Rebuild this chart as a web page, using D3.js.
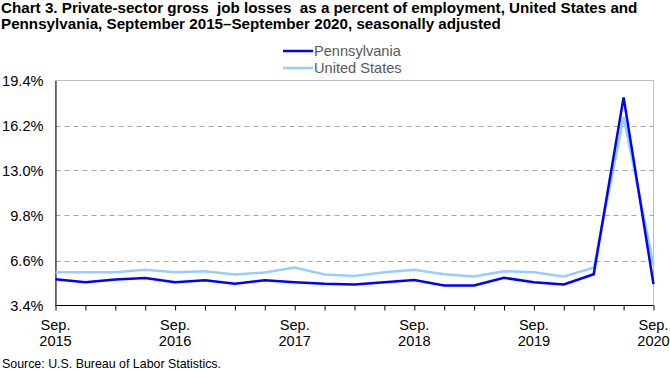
<!DOCTYPE html>
<html><head><meta charset="utf-8">
<script src="https://cdn.jsdelivr.net/npm/d3@7"></script>
<style>body{margin:0;background:#fff}svg{display:block;font-family:"Liberation Sans",Arial,sans-serif}</style>
</head><body><svg id="c" width="670" height="370"></svg>
<script>
const quarters = ["Sep 2015","Dec 2015","Mar 2016","Jun 2016","Sep 2016","Dec 2016","Mar 2017","Jun 2017","Sep 2017","Dec 2017","Mar 2018","Jun 2018","Sep 2018","Dec 2018","Mar 2019","Jun 2019","Sep 2019","Dec 2019","Mar 2020","Jun 2020","Sep 2020"];
const pennsylvania = [5.27,5.06,5.25,5.35,5.06,5.2,4.94,5.2,5.06,4.94,4.89,5.06,5.22,4.82,4.82,5.37,5.06,4.89,5.62,18.2,4.92];
const unitedStates = [5.77,5.77,5.77,5.94,5.77,5.84,5.6,5.75,6.1,5.6,5.5,5.77,5.94,5.63,5.46,5.84,5.76,5.46,6.08,16.8,6.3];
const yTicks = [3.4,6.6,9.8,13.0,16.2,19.4];
const xLabelIdx = [0,4,8,12,16,20];

const svg = d3.select("#c");
const m = {l:55.5, r:653.5, t:80.5, b:305.5};
const x = d3.scalePoint().domain(quarters).range([m.l, m.r]);
const y = d3.scaleLinear().domain([3.4,19.4]).range([m.b, m.t]);

// title
const title = svg.append("text").attr("font-weight","bold").attr("font-size",15.2).attr("fill","#000").style("white-space","pre");
title.append("tspan").attr("x",1).attr("y",12.5).text("Chart 3. Private-sector gross  job losses  as a percent of employment, United States and");
title.append("tspan").attr("x",1).attr("y",28.5).text("Pennsylvania, September 2015\u2013September 2020, seasonally adjusted");

// plot border
svg.append("rect").attr("x",m.l).attr("y",m.t).attr("width",m.r-m.l).attr("height",m.b-m.t)
  .attr("fill","none").attr("stroke","#bfbfbf").attr("stroke-width",1);

// gridlines
svg.append("g").selectAll("line").data(yTicks.slice(1,-1)).join("line")
  .attr("x1",m.l).attr("x2",m.r).attr("y1",d=>Math.round(y(d))+0.5).attr("y2",d=>Math.round(y(d))+0.5)
  .attr("stroke","#a6a6a6").attr("stroke-dasharray","5,4");

// y axis
const yAxis = svg.append("g").attr("transform",`translate(${m.l},0)`)
  .call(d3.axisLeft(y).tickValues(yTicks).tickSize(0).tickPadding(12).tickFormat(d=>d.toFixed(1)+"%"));
yAxis.select(".domain").attr("stroke","#000");
yAxis.selectAll("text").attr("font-size",14.6).attr("fill","#000").attr("font-family","Liberation Sans,Arial,sans-serif");

// x axis
const xAxis = svg.append("g").attr("transform",`translate(0,${m.b})`)
  .call(d3.axisBottom(x).tickSize(5).tickFormat(""));
xAxis.select(".domain").attr("stroke","#000").attr("d",`M${m.l},0H${m.r}`);
xAxis.selectAll(".tick line").attr("stroke","#000");
const xl = svg.append("g").selectAll("text").data(xLabelIdx).join("text")
  .attr("text-anchor","middle").attr("font-size",14.6).attr("fill","#000")
  .attr("transform",d=>`translate(${x(quarters[d])},0)`);
xl.append("tspan").attr("x",0).attr("y",330).text(d=>quarters[d].split(" ")[0]+".");
xl.append("tspan").attr("x",0).attr("y",346).text(d=>quarters[d].split(" ")[1]);

// lines
const line = d3.line().x((d,i)=>x(quarters[i])).y(d=>y(d));
svg.append("path").datum(unitedStates).attr("d",line).attr("fill","none").attr("stroke","#99ccff").attr("stroke-width",2.5);
svg.append("path").datum(pennsylvania).attr("d",line).attr("fill","none").attr("stroke","#0000ff").attr("stroke-width",2.5);

// legend
const leg = [{n:"Pennsylvania",c:"#0000ff",y:51},{n:"United States",c:"#99ccff",y:68}];
const lg = svg.append("g");
lg.selectAll("line").data(leg).join("line").attr("x1",283).attr("x2",313).attr("y1",d=>d.y).attr("y2",d=>d.y)
  .attr("stroke",d=>d.c).attr("stroke-width",2.5);
lg.selectAll("text").data(leg).join("text").attr("x",314).attr("y",d=>d.y+5).attr("font-size",14.6).attr("fill","#595959").text(d=>d.n);

// source
svg.append("text").attr("x",2).attr("y",368).attr("font-size",12.4).attr("fill","#000").text("Source: U.S. Bureau of Labor Statistics.");
</script></body></html>
